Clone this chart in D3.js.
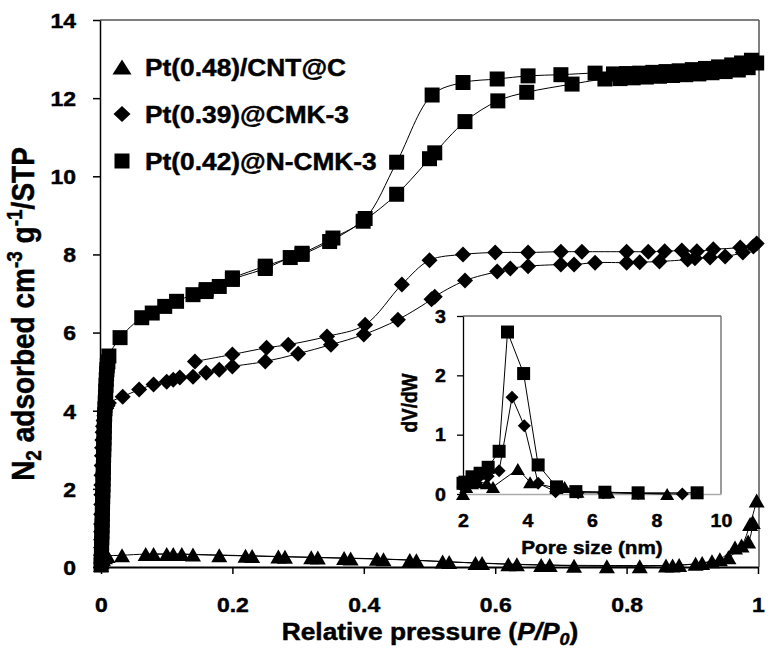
<!DOCTYPE html>
<html><head><meta charset="utf-8">
<script src="https://cdn.jsdelivr.net/npm/d3@7/dist/d3.min.js"></script>
<style>body{margin:0;background:#fff}svg{display:block}</style>
</head><body>
<script>
// ---------- DATA ----------
const seriesNames = ["Pt(0.48)/CNT@C", "Pt(0.39)@CMK-3", "Pt(0.42)@N-CMK-3"];
const xTicks = [0, 0.2, 0.4, 0.6, 0.8, 1];
const yTicks = [0, 2, 4, 6, 8, 10, 12, 14];
const insetXTicks = [2, 4, 6, 8, 10];
const insetYTicks = [0, 1, 2, 3];

// Pt(0.42)@N-CMK-3 (squares)
const sqAdsP = [0.0002,0.0004,0.0006,0.0008,0.001,0.0012,0.0014,0.0016,0.0018,0.002,0.0022,0.0024,0.0026,0.0028,0.003,0.0032,0.0034,0.0036,0.0038,0.004,0.0042,0.0044,0.0046,0.0048,0.005,0.0053,0.0056,0.006,0.0064,0.0068,0.0072,0.0076,0.008,0.0085,0.009,0.0095,0.0105,0.012,
  0.029,0.062,0.078,0.097,0.115,0.14,0.16,0.18,0.20,0.25,0.288,0.306,0.348,0.399,0.45,0.50,0.508,0.554,0.604,0.648,0.717,0.767,0.79,0.81,0.83,0.85,0.87,0.89,0.91,0.93,0.95,0.97,0.985,0.998];
const sqAdsV = [0.05,0.15,0.3,0.45,0.6,0.75,0.9,1.05,1.2,1.35,1.5,1.65,1.8,1.95,2.1,2.25,2.4,2.55,2.7,2.85,3.0,3.15,3.3,3.45,3.6,3.75,3.9,4.05,4.2,4.35,4.5,4.65,4.8,4.95,5.05,5.15,5.25,5.4,
  5.87,6.38,6.5,6.67,6.8,6.97,7.05,7.18,7.36,7.64,7.92,8.0,8.33,8.85,9.54,10.45,10.6,11.4,11.93,12.15,12.36,12.49,12.5,12.52,12.54,12.56,12.58,12.6,12.62,12.65,12.68,12.72,12.78,12.9];
const sqDesP = [0.99,0.975,0.96,0.94,0.92,0.90,0.88,0.86,0.84,0.82,0.80,0.78,0.752,0.70,0.65,0.603,0.551,0.504,0.45,0.402,0.353,0.306,0.25,0.2,0.16];
const sqDesV = [12.97,12.9,12.85,12.8,12.76,12.73,12.7,12.68,12.66,12.64,12.63,12.62,12.64,12.6,12.57,12.49,12.4,12.08,10.36,8.92,8.42,8.03,7.7,7.4,7.1];

// Pt(0.39)@CMK-3 (diamonds)
const diaAdsP = [0.00001,0.00003,0.00005,0.0001,0.00015,0.0002,0.0003,0.0004,0.0005,0.0006,0.0008,0.001,0.0013,0.0016,0.002,0.0025,0.003,0.004,0.005,0.006,0.008,0.010,0.012,
  0.033,0.058,0.08,0.10,0.11,0.12,0.14,0.16,0.18,0.20,0.25,0.30,0.35,0.40,0.452,0.503,0.508,0.554,0.603,0.623,0.65,0.70,0.72,0.752,0.80,0.82,0.85,0.893,0.904,0.927,0.95,0.977,0.993];
const diaAdsV = [0.1,0.3,0.5,0.7,0.9,1.1,1.35,1.6,1.85,2.1,2.35,2.6,2.85,3.05,3.25,3.45,3.6,3.75,3.87,3.97,4.06,4.13,4.2,
  4.36,4.54,4.67,4.74,4.79,4.85,4.87,4.97,5.05,5.13,5.26,5.46,5.69,5.95,6.33,6.85,6.92,7.33,7.56,7.64,7.7,7.74,7.74,7.79,7.79,7.8,7.82,7.87,7.9,7.92,7.95,8.05,8.2];
const diaDesP = [0.998,0.973,0.932,0.907,0.884,0.858,0.833,0.80,0.732,0.70,0.65,0.60,0.551,0.50,0.458,0.402,0.344,0.285,0.252,0.2,0.143];
const diaDesV = [8.28,8.18,8.13,8.08,8.1,8.08,8.07,8.07,8.07,8.07,8.05,8.05,8.0,7.85,7.23,6.2,5.9,5.69,5.61,5.44,5.26];

// Pt(0.48)/CNT@C (triangles)
const triAdsP = [0.0001,0.001,0.003,0.006,0.01,0.032,0.068,0.1,0.123,0.14,0.18,0.23,0.28,0.33,0.38,0.43,0.48,0.53,0.58,0.633,0.683,0.72,0.77,0.82,0.87,0.905,0.93,0.955,0.975,0.988,0.998];
const triAdsV = [0.05,0.12,0.2,0.25,0.28,0.3,0.33,0.33,0.33,0.32,0.3,0.28,0.26,0.24,0.22,0.2,0.17,0.13,0.1,0.07,0.05,0.03,0.02,0.02,0.04,0.08,0.15,0.25,0.55,1.1,1.7];
const triDesP = [0.992,0.985,0.965,0.942,0.915,0.88,0.86,0.67,0.62,0.57,0.52,0.47,0.42,0.37,0.32,0.27,0.22,0.11,0.08];
const triDesV = [1.15,0.65,0.5,0.2,0.1,0.05,0.04,0.05,0.07,0.1,0.14,0.18,0.21,0.23,0.25,0.27,0.29,0.33,0.33];

// Inset: pore size distribution
const insetSqW = [2.0,2.06,2.28,2.53,2.78,3.12,3.38,3.88,4.33,4.9,5.5,6.4,7.43,9.26];
const insetSqV = [0.18,0.2,0.29,0.35,0.45,0.72,2.73,2.03,0.49,0.12,0.04,0.03,0.02,0.02];
const insetDiaW = [2.0,2.15,2.28,2.53,2.78,3.12,3.52,3.9,4.33,4.87,5.57,6.35,7.43,8.8];
const insetDiaV = [0.12,0.15,0.22,0.3,0.3,0.39,1.63,1.15,0.18,0.04,0.02,0.02,0.01,0.0];
const insetTriW = [2.0,2.1,2.28,2.47,2.74,2.93,3.7,4.08,4.9,5.15,5.55,6.5,7.43,8.33];
const insetTriV = [0.0,0.12,0.18,0.2,0.18,0.12,0.42,0.2,0.1,0.12,0.04,0.03,0.01,0.0];

// ---------- DRAW ----------
const W = 768, H = 650;
const FONT = "'Liberation Sans', Arial, sans-serif";
const SX = 1.12;
const svg = d3.select("body").append("svg").attr("width", W).attr("height", H)
  .style("font-family", FONT).style("font-weight", "bold");

const x = d3.scaleLinear().domain([0, 1]).range([101, 758]);
const y = d3.scaleLinear().domain([0, 14]).range([567, 20]);

const sqPath = s => `M${-s/2},${-s/2}h${s}v${s}h${-s}Z`;
const diaPath = (w, h) => `M0,${-h/2}L${w/2},0L0,${h/2}L${-w/2},0Z`;
const triPath = (w, h) => `M0,${-h/2}L${w/2},${h/2}L${-w/2},${h/2}Z`;

const zip = (a, b) => a.map((v, i) => [v, b[i]]);
const heavy = sel => sel.attr("stroke", "#000").attr("stroke-width", 0.45).attr("fill", "#000");

// frame
svg.append("line").attr("x1", x(0)-1).attr("x2", x(1)+1).attr("y1", y(14)).attr("y2", y(14)).attr("stroke", "#555").attr("stroke-width", 1.5);
svg.append("line").attr("x1", x(1)+1).attr("x2", x(1)+1).attr("y1", y(14)).attr("y2", y(0)).attr("stroke", "#555").attr("stroke-width", 1.5);

// axes
const gx = svg.append("g").attr("transform", `translate(0,${y(0)})`)
  .call(d3.axisBottom(x).tickValues(xTicks).tickFormat(d => String(d)).tickSize(7).tickSizeOuter(0));
gx.select(".domain").attr("stroke", "#000").attr("stroke-width", 2);
gx.selectAll(".tick line").attr("stroke", "#000").attr("stroke-width", 1.5);
gx.selectAll(".tick text").attr("y", 0).attr("dy", 0).call(heavy)
  .attr("transform", `translate(0,45) scale(${SX},1)`).style("font-size", "20.5px").style("font-family", FONT).style("font-weight", "bold");

const gy = svg.append("g").attr("transform", `translate(${x(0)-1},0)`)
  .call(d3.axisLeft(y).tickValues(yTicks).tickSize(7).tickSizeOuter(0));
gy.select(".domain").attr("stroke", "#000").attr("stroke-width", 1.5);
gy.selectAll(".tick line").attr("stroke", "#000").attr("stroke-width", 1.5);
gy.selectAll(".tick text").attr("x", 0).attr("dy", "0.36em").call(heavy)
  .attr("transform", `translate(-24,0) scale(${SX},1)`).style("font-size", "20.5px").style("font-family", FONT).style("font-weight", "bold");

// axis titles
const xt = svg.append("text").attr("transform", `translate(430,640) scale(${SX},1)`)
  .attr("text-anchor", "middle").style("font-size", "23.5px").call(heavy);
xt.append("tspan").text("Relative pressure (");
xt.append("tspan").style("font-style", "italic").text("P/P");
xt.append("tspan").style("font-style", "italic").style("font-size", "16px").attr("dy", 5).text("0");
xt.append("tspan").attr("dy", -5).text(")");

const yt = svg.append("text").attr("transform", `translate(34,314) scale(${SX},1) rotate(-90)`)
  .attr("text-anchor", "middle").style("font-size", "28px").call(heavy);
yt.append("tspan").text("N");
yt.append("tspan").style("font-size", "19px").attr("dy", 6).text("2");
yt.append("tspan").attr("dy", -6).text(" adsorbed cm");
yt.append("tspan").style("font-size", "19px").attr("dy", -11).text("-3");
yt.append("tspan").attr("dy", 11).text(" g");
yt.append("tspan").style("font-size", "19px").attr("dy", -11).text("-1");
yt.append("tspan").attr("dy", 11).text("/STP");

// series lines
const lineMain = d3.line().x(d => x(d[0])).y(d => y(d[1])).curve(d3.curveCatmullRom.alpha(0.5));
const branches = [
  zip(triAdsP, triAdsV), zip(triDesP, triDesV),
  zip(diaAdsP, diaAdsV), zip(diaDesP, diaDesV),
  zip(sqAdsP, sqAdsV), zip(sqDesP, sqDesV)
];
svg.append("g").selectAll("path").data(branches).join("path")
  .attr("d", lineMain).attr("fill", "none").attr("stroke", "#000").attr("stroke-width", 1);

// markers
const mk = svg.append("g");
function drawMarkers(g, pts, sx, sy, d) {
  g.append("g").selectAll("path").data(pts).join("path")
    .attr("transform", p => `translate(${sx(p[0])},${sy(p[1])})`)
    .attr("d", d).attr("fill", "#000");
}
drawMarkers(mk, zip(triAdsP, triAdsV).concat(zip(triDesP, triDesV)), x, y, triPath(16, 14));
drawMarkers(mk, zip(diaAdsP, diaAdsV).concat(zip(diaDesP, diaDesV)), x, y, diaPath(16, 16));
drawMarkers(mk, zip(sqAdsP, sqAdsV).concat(zip(sqDesP, sqDesV)), x, y, sqPath(15));

// legend
const legY = [67, 114, 161];
const legMk = [triPath(19, 15), diaPath(17, 16), sqPath(15)];
seriesNames.forEach((n, i) => {
  svg.append("path").attr("transform", `translate(122,${legY[i]})`).attr("d", legMk[i]).attr("fill", "#000");
  svg.append("text").attr("transform", `translate(145,${legY[i] + 8.5}) scale(${SX},1)`)
    .style("font-size", "23.5px").call(heavy).text(n);
});

// ---------- INSET ----------
const xi = d3.scaleLinear().domain([2, 10]).range([463, 721]);
const yi = d3.scaleLinear().domain([0, 3]).range([494, 316]);
svg.append("rect").attr("x", xi(2)).attr("y", yi(3)).attr("width", xi(10) - xi(2)).attr("height", yi(0) - yi(3)).attr("fill", "#fff");
svg.append("line").attr("x1", xi(2)).attr("x2", xi(10)).attr("y1", yi(3)).attr("y2", yi(3)).attr("stroke", "#666").attr("stroke-width", 1.3);
svg.append("line").attr("x1", xi(10)).attr("x2", xi(10)).attr("y1", yi(3)).attr("y2", yi(0)).attr("stroke", "#666").attr("stroke-width", 1.3);

const gix = svg.append("g").attr("transform", `translate(0,${yi(0)})`)
  .call(d3.axisBottom(xi).tickValues(insetXTicks).tickFormat(d3.format("d")).tickSize(0).tickSizeOuter(0));
gix.select(".domain").attr("stroke", "#aaa").attr("stroke-width", 1.5);
gix.selectAll(".tick text").attr("y", 0).attr("dy", 0).call(heavy)
  .attr("transform", `translate(0,33) scale(${SX},1)`).style("font-size", "17.5px").style("font-family", FONT).style("font-weight", "bold");

const giy = svg.append("g").attr("transform", `translate(${xi(2)},0)`)
  .call(d3.axisLeft(yi).tickValues(insetYTicks).tickFormat(d3.format("d")).tickSize(6).tickSizeOuter(0));
giy.select(".domain").attr("stroke", "#000").attr("stroke-width", 1.3);
giy.selectAll(".tick line").attr("stroke", "#000").attr("stroke-width", 1.3);
giy.selectAll(".tick text").attr("x", 0).attr("dy", "0.36em").call(heavy)
  .attr("transform", `translate(-17,0) scale(${SX},1)`).style("font-size", "17.5px").style("font-family", FONT).style("font-weight", "bold");

svg.append("text").attr("transform", `translate(592,554) scale(${SX},1)`).attr("text-anchor", "middle")
  .style("font-size", "18.5px").call(heavy).text("Pore size (nm)");
svg.append("text").attr("transform", `translate(417,403) scale(${SX},1) rotate(-90)`).attr("text-anchor", "middle")
  .style("font-size", "19px").call(heavy).text("dV/dW");

const lineIn = d3.line().x(d => xi(d[0])).y(d => yi(d[1]));
const inSeries = [zip(insetTriW, insetTriV), zip(insetDiaW, insetDiaV), zip(insetSqW, insetSqV)];
svg.append("g").selectAll("path").data(inSeries).join("path")
  .attr("d", lineIn).attr("fill", "none").attr("stroke", "#000").attr("stroke-width", 1);
const mi = svg.append("g");
drawMarkers(mi, inSeries[0], xi, yi, triPath(14, 12));
drawMarkers(mi, inSeries[1], xi, yi, diaPath(13, 13));
drawMarkers(mi, inSeries[2], xi, yi, sqPath(13));
</script>
</body></html>
